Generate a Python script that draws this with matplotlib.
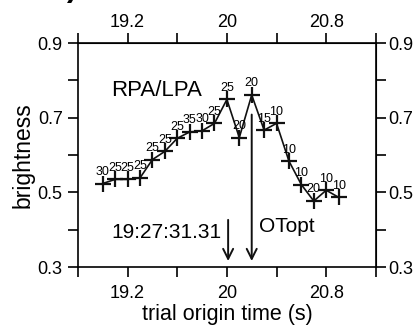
import matplotlib
matplotlib.use("Agg")
import matplotlib.pyplot as plt

plt.rcParams['font.family'] = ['Liberation Sans', 'DejaVu Sans']

# trial origin times and brightness values
times = [19.0, 19.1, 19.2, 19.3, 19.4, 19.5, 19.6, 19.7, 19.8, 19.9,
         20.0, 20.1, 20.2, 20.3, 20.4, 20.5, 20.6, 20.7, 20.8, 20.9]
brightness = [0.524, 0.535, 0.535, 0.539, 0.588, 0.610, 0.645, 0.662, 0.665, 0.685,
              0.749, 0.647, 0.761, 0.667, 0.685, 0.584, 0.521, 0.477, 0.506, 0.487]
labels = ['30', '25', '25', '25', '25', '25', '25', '35', '30', '25',
          '25', '20', '20', '15', '10', '10', '10', '20', '10', '10']

xticks = [18.8, 19.2, 19.6, 20.0, 20.4, 20.8, 21.2]
xticklabels = ['', '19.2', '', '20', '', '20.8', '']
yticks = [0.3, 0.4, 0.5, 0.6, 0.7, 0.8, 0.9]
yticklabels = ['0.3', '', '0.5', '', '0.7', '', '0.9']

fig = plt.figure(figsize=(4.19, 3.29), dpi=100)
ax = fig.add_axes([0.186, 0.188, 0.711, 0.681])

ax.plot(times, brightness, color='#111111', lw=1.2, marker='+', ms=11, mew=1.6)
for t, b, lab in zip(times, brightness, labels):
    ax.annotate(lab, (t, b), xytext=(0, 4), textcoords='offset points',
                ha='center', va='bottom', fontsize=9)

ax.set_xlim(18.8, 21.2)
ax.set_ylim(0.3, 0.9)
ax.set_xticks(xticks)
ax.set_xticklabels(xticklabels)
ax.set_yticks(yticks)
ax.set_yticklabels(yticklabels)
ax.tick_params(direction='out', length=7, width=1.2, labelsize=13)
ax.tick_params(axis='x', pad=6)
ax.tick_params(axis='y', pad=4)
for s in ax.spines.values():
    s.set_linewidth(1.2)

# top and right axes repeat the ticks
top = ax.secondary_xaxis('top')
top.set_xticks(xticks)
top.set_xticklabels(xticklabels)
top.tick_params(direction='out', length=7, width=1.2, labelsize=13, pad=2)
right = ax.secondary_yaxis('right')
right.set_yticks(yticks)
right.set_yticklabels(yticklabels)
right.tick_params(direction='out', length=7, width=1.2, labelsize=13, pad=2)

ax.set_xlabel('trial origin time (s)', fontsize=15.5, labelpad=1)
ax.set_ylabel('brightness', fontsize=16.5, labelpad=2)

ax.text(19.07, 0.774, 'RPA/LPA', fontsize=16, va='center')

arrow = dict(arrowstyle='->', lw=1.4, color='#111111', mutation_scale=18)
ax.annotate('', xy=(20.01, 0.309), xytext=(20.01, 0.434), arrowprops=arrow)
ax.annotate('', xy=(20.2, 0.309), xytext=(20.2, 0.716), arrowprops=arrow)
ax.text(19.955, 0.393, '19:27:31.31', fontsize=15, ha='right', va='center')
ax.text(20.26, 0.41, 'OTopt', fontsize=15, ha='left', va='center')

fig.text(0.16, 1.035, ')', fontsize=22, fontweight='bold', ha='left', va='center')

fig.savefig('out.png', dpi=100)
